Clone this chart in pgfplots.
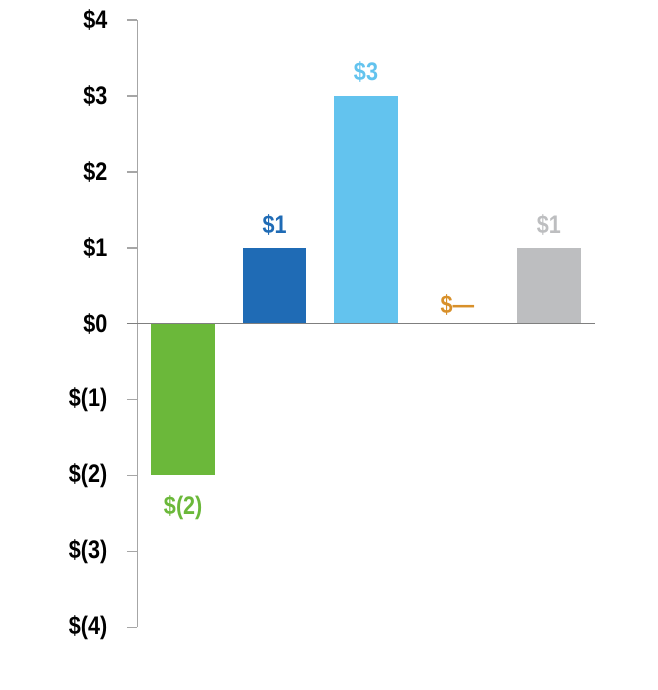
\documentclass[border=0pt]{standalone}
\usepackage{fontspec}
\setmainfont{Liberation Sans}[FakeStretch=0.85]
\usepackage{pgfplots}
\pgfplotsset{compat=1.18}
\definecolor{cgreen}{HTML}{6BB83A}
\definecolor{cdblue}{HTML}{1F6BB5}
\definecolor{clblue}{HTML}{63C3EE}
\definecolor{corange}{HTML}{D8902A}
\definecolor{cgray}{HTML}{BDBEC0}
\definecolor{caxis}{HTML}{A6A6A6}
\definecolor{czero}{HTML}{7F7F7F}
\begin{document}
\begin{tikzpicture}
\begin{axis}[
  x=91.4bp, y=75.9bp,
  xmin=-0.5, xmax=4.5, ymin=-4, ymax=4,
  axis x line=none,
  axis y line*=left,
  y axis line style={-, draw=caxis, line width=1.5bp},
  ytick={-4,-3,-2,-1,0,1,2,3,4},
  yticklabels={\$(4),\$(3),\$(2),\$(1),\$0,\$1,\$2,\$3,\$4},
  tick align=outside,
  major tick length=10.5bp,
  ytick style={draw=caxis, line width=1.5bp},
  yticklabel style={font=\fontsize{25.5}{28}\selectfont\bfseries, anchor=east, inner sep=0pt, xshift=-19.5bp},
  clip=false,
  bar width=63.5bp,
  every axis plot/.append style={ybar, bar shift=0pt, draw=none},
  nodes near coords style={font=\fontsize{25.5}{28}\selectfont\bfseries, inner sep=0pt, anchor=center},
]
\addplot[fill=cgreen, point meta=explicit symbolic,
  nodes near coords, nodes near coords style={text=cgreen, yshift=-32bp}]
  coordinates {(0,-2) [\$(2)]};
\addplot[fill=cdblue, point meta=explicit symbolic,
  nodes near coords, nodes near coords style={text=cdblue, yshift=23bp}]
  coordinates {(1,1) [\$1]};
\addplot[fill=clblue, point meta=explicit symbolic,
  nodes near coords, nodes near coords style={text=clblue, yshift=24bp}]
  coordinates {(2,3) [\$3]};
\addplot[fill=corange, point meta=explicit symbolic,
  nodes near coords, nodes near coords style={text=corange, yshift=19bp}]
  coordinates {(3,0) [\$—]};
\addplot[fill=cgray, point meta=explicit symbolic,
  nodes near coords, nodes near coords style={text=cgray, yshift=23bp}]
  coordinates {(4,1) [\$1]};
\draw[czero, line width=1.5bp] ([xshift=-10.5bp]axis cs:-0.5,0) -- (axis cs:4.5,0);
\coordinate (bl) at (axis cs:-0.5,-4);
\end{axis}
\pgfresetboundingbox
\path[use as bounding box] ([xshift=-137.5bp,yshift=-62.7bp]bl) rectangle ([xshift=520.5bp,yshift=627.3bp]bl);
\end{tikzpicture}
\end{document}
